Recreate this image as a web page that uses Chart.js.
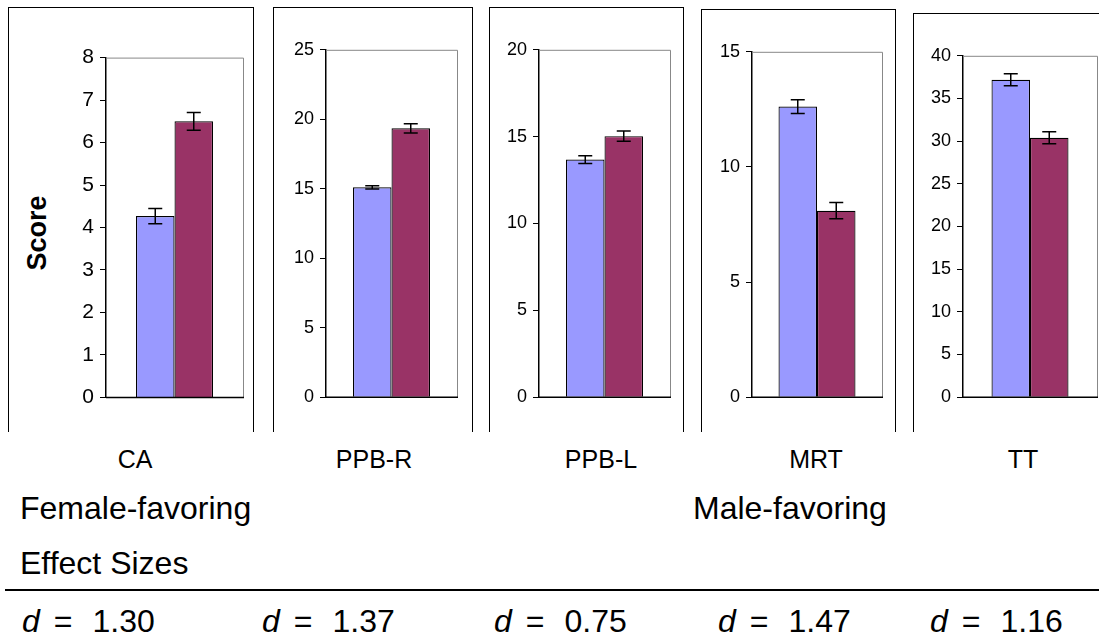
<!DOCTYPE html>
<html>
<head>
<meta charset="utf-8">
<script src="https://cdn.jsdelivr.net/npm/chart.js@4"></script>
<style>
  body { margin: 0; background: #fff; font-family: Arial, "Liberation Sans", sans-serif; }
  #page { position: relative; width: 1099px; height: 637px; overflow: hidden; }
  .frame { position: absolute; border: 1px solid #000; border-bottom: none; box-sizing: border-box; }
  canvas { position: absolute; }
  .txt { position: absolute; white-space: nowrap; color: #000; line-height: 1; }
</style>
</head>
<body>
<div id="page"></div>
<script>
// data
const categories = ['CA', 'PPB-R', 'PPB-L', 'MRT', 'TT'];
const seriesNames = ['Male', 'Female'];
const maleMeans = [4.27, 15.1, 13.68, 12.62, 37.2];
const femaleMeans = [6.5, 19.35, 15.03, 8.1, 30.4];
const maleErr = [0.18, 0.12, 0.22, 0.3, 0.7];
const femaleErr = [0.21, 0.33, 0.3, 0.35, 0.7];
const axisMax = [8, 25, 20, 15, 40];
const axisStep = [1, 5, 5, 5, 5];
const effectSizes = ['1.30', '1.37', '0.75', '1.47', '1.16'];

// layout of each panel (plot area box and outer frame)
const plots = [
    { l: 106, t: 53, r: 243, b: 402, font: 21 },
    { l: 326, t: 47, r: 457, b: 400, font: 18 },
    { l: 539, t: 47, r: 670, b: 400, font: 18 },
    { l: 752, t: 49, r: 882, b: 400, font: 18 },
    { l: 963, t: 53, r: 1097, b: 400, font: 18 }
];
const frames = [
    { l: 8, t: 7, r: 254 },
    { l: 273, t: 7, r: 473 },
    { l: 489, t: 7, r: 684 },
    { l: 701, t: 9, r: 896 },
    { l: 913, t: 13, r: 1110 }
];
const labelX = [135, 374, 601, 816, 1023];
const effectX = [22, 262, 494, 718, 930];

const page = document.getElementById('page');

function addText(text, x, y, size, extra) {
    const el = document.createElement('div');
    el.className = 'txt';
    el.textContent = text;
    el.style.left = x + 'px';
    el.style.top = y + 'px';
    el.style.fontSize = size + 'px';
    if (extra) Object.assign(el.style, extra);
    page.appendChild(el);
    return el;
}

// error bars and the plot box lines
const errorBars = {
    id: 'errorBars',
    afterDatasetsDraw(chart) {
        const ctx = chart.ctx;
        const y = chart.scales.y;
        const a = chart.chartArea;
        const i = chart.options.plugins.errorBars.index;
        ctx.save();
        // box: grey top/right, black bottom
        ctx.lineWidth = 1;
        ctx.strokeStyle = '#888';
        ctx.beginPath();
        ctx.moveTo(a.left, a.top + 0.5);
        ctx.lineTo(a.right + 0.5, a.top + 0.5);
        ctx.lineTo(a.right + 0.5, a.bottom);
        ctx.stroke();
        ctx.strokeStyle = '#000';
        ctx.lineWidth = 1.5;
        ctx.beginPath();
        ctx.moveTo(a.left, a.bottom);
        ctx.lineTo(a.right + 1, a.bottom);
        ctx.stroke();

        const errs = [maleErr[i], femaleErr[i]];
        chart.data.datasets.forEach(function (ds, k) {
            const bar = chart.getDatasetMeta(k).data[0];
            const v = ds.data[0];
            const top = y.getPixelForValue(v + errs[k]);
            const bot = y.getPixelForValue(v - errs[k]);
            ctx.lineWidth = 1.5;
            ctx.beginPath();
            ctx.moveTo(bar.x, top);
            ctx.lineTo(bar.x, bot);
            ctx.moveTo(bar.x - 7, top);
            ctx.lineTo(bar.x + 7, top);
            ctx.moveTo(bar.x - 7, bot);
            ctx.lineTo(bar.x + 7, bot);
            ctx.stroke();
        });
        ctx.restore();
    }
};

const axisW = 50, padT = 14, padB = 14, padR = 4;

categories.forEach(function (cat, i) {
    const f = frames[i];
    const fr = document.createElement('div');
    fr.className = 'frame';
    fr.style.left = f.l + 'px';
    fr.style.top = f.t + 'px';
    fr.style.width = (f.r - f.l) + 'px';
    fr.style.height = (432 - f.t) + 'px';
    page.appendChild(fr);

    const p = plots[i];
    const cv = document.createElement('canvas');
    const w = (p.r - p.l) + axisW + padR;
    const h = (p.b - p.t) + padT + padB;
    cv.width = w;
    cv.height = h;
    cv.style.left = (p.l - axisW) + 'px';
    cv.style.top = (p.t - padT) + 'px';
    cv.style.width = w + 'px';
    cv.style.height = h + 'px';
    page.appendChild(cv);

    const catPct = 77 / (p.r - p.l);

    new Chart(cv.getContext('2d'), {
        type: 'bar',
        data: {
            labels: [cat],
            datasets: [
                { label: seriesNames[0], data: [maleMeans[i]], backgroundColor: '#9999FF', borderColor: '#000', borderWidth: 1.2 },
                { label: seriesNames[1], data: [femaleMeans[i]], backgroundColor: '#993366', borderColor: '#000', borderWidth: 1.2 }
            ]
        },
        options: {
            responsive: false,
            animation: false,
            devicePixelRatio: 1,
            layout: { padding: { top: padT, bottom: padB, right: padR, left: 0 } },
            datasets: { bar: { barPercentage: 1, categoryPercentage: catPct } },
            plugins: {
                legend: { display: false },
                tooltip: { enabled: false },
                errorBars: { index: i }
            },
            scales: {
                x: { display: false },
                y: {
                    min: 0,
                    max: axisMax[i],
                    afterFit: function (s) { s.width = axisW; },
                    ticks: {
                        stepSize: axisStep[i],
                        padding: 6,
                        color: '#000',
                        font: { family: 'Arial, "Liberation Sans", sans-serif', size: p.font }
                    },
                    grid: { drawOnChartArea: false, drawTicks: true, tickLength: 6, color: '#000' },
                    border: { display: true, color: '#000', width: 1.5 }
                }
            }
        },
        plugins: [errorBars]
    });

    addText(cat, labelX[i], 447, 25, { transform: 'translateX(-50%)' });

    const eff = document.createElement('div');
    eff.className = 'txt';
    eff.style.left = effectX[i] + 'px';
    eff.style.top = '605px';
    eff.style.fontSize = '32px';
    eff.innerHTML = '<i>d</i><span style="margin-left:14px">=</span><span style="margin-left:20px">' + effectSizes[i] + '</span>';
    page.appendChild(eff);
});

// y title
addText('Score', 37, 233, 27, { fontWeight: 'bold', transform: 'translate(-50%,-50%) rotate(-90deg)' });

addText('Female-favoring', 20, 492, 32);
addText('Male-favoring', 693, 492, 32);
addText('Effect Sizes', 20, 547, 32);

const rule = document.createElement('div');
rule.style.position = 'absolute';
rule.style.left = '5px';
rule.style.top = '589px';
rule.style.width = '1094px';
rule.style.height = '2px';
rule.style.background = '#000';
page.appendChild(rule);
</script>
</body>
</html>
